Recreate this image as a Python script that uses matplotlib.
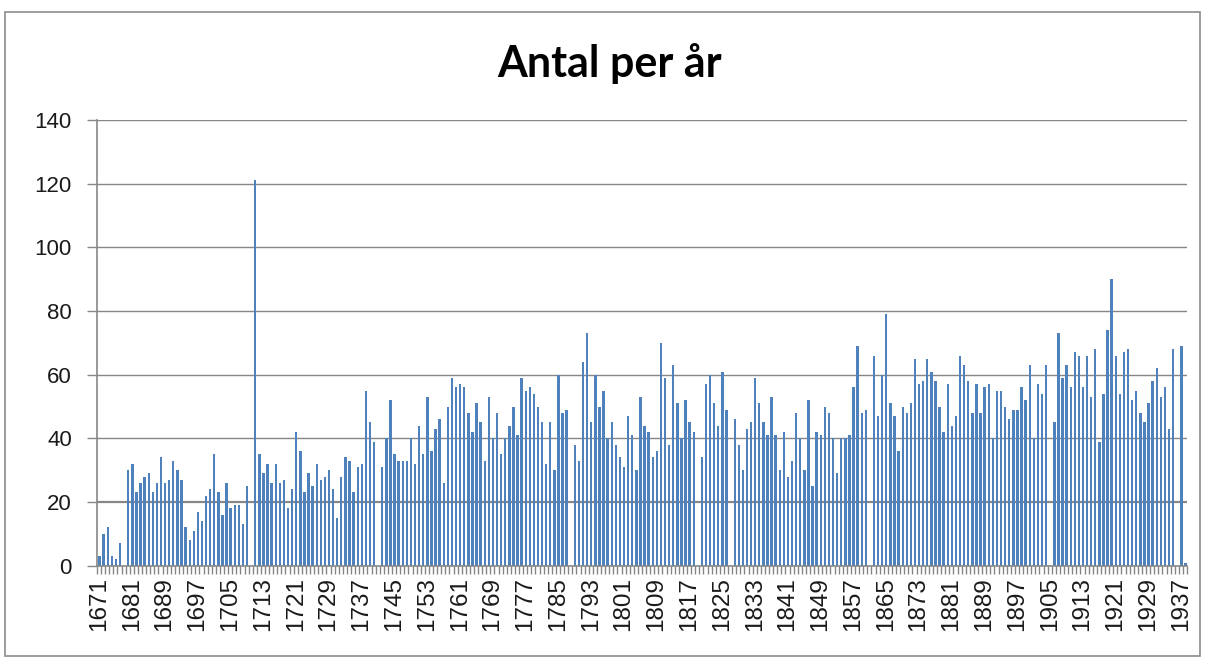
import numpy as np
import matplotlib
matplotlib.use("Agg")
import matplotlib.pyplot as plt
import matplotlib.patches as patches

# categories: years as they appear on the axis (a few early years are absent)
YEARS = [1671, 1673, 1674, 1675, 1676, 1677, 1678, 1680] + list(range(1681, 1939))

# number per year
COUNTS = [
    3, 10, 12, 3, 2, 7, 0, 30, 32, 23,
    26, 28, 29, 23, 26, 34, 26, 27, 33, 30,
    27, 12, 8, 11, 17, 14, 22, 24, 35, 23,
    16, 26, 18, 19, 19, 13, 25, 0, 121, 35,
    29, 32, 26, 32, 26, 27, 18, 24, 42, 36,
    23, 29, 25, 32, 27, 28, 30, 24, 15, 28,
    34, 33, 23, 31, 32, 55, 45, 39, 0, 31,
    40, 52, 35, 33, 33, 33, 40, 32, 44, 35,
    53, 36, 43, 46, 26, 50, 59, 56, 57, 56,
    48, 42, 51, 45, 33, 53, 40, 48, 35, 40,
    44, 50, 41, 59, 55, 56, 54, 50, 45, 32,
    45, 30, 60, 48, 49, 0, 38, 33, 64, 73,
    45, 60, 50, 55, 40, 45, 38, 34, 31, 47,
    41, 30, 53, 44, 42, 34, 36, 70, 59, 38,
    63, 51, 40, 52, 45, 42, 0, 34, 57, 60,
    51, 44, 61, 49, 0, 46, 38, 30, 43, 45,
    59, 51, 45, 41, 53, 41, 30, 42, 28, 33,
    48, 40, 30, 52, 25, 42, 41, 50, 48, 40,
    29, 40, 40, 41, 56, 69, 48, 49, 0, 66,
    47, 60, 79, 51, 47, 36, 50, 48, 51, 65,
    57, 58, 65, 61, 58, 50, 42, 57, 44, 47,
    66, 63, 58, 48, 57, 48, 56, 57, 40, 55,
    55, 50, 46, 49, 49, 56, 52, 63, 40, 57,
    54, 63, 0, 45, 73, 59, 63, 56, 67, 66,
    56, 66, 53, 68, 39, 54, 74, 90, 66, 54,
    67, 68, 52, 55, 48, 45, 51, 58, 62, 53,
    56, 43, 68, 0, 69, 1,
]

TITLE = "Antal per år"
Y_TICKS = [0, 20, 40, 60, 80, 100, 120, 140]
LABEL_STEP = 8

BAR_COLOR = "#4F81BD"
GRID_COLOR = "#868686"

W, H = 1205, 661
fig = plt.figure(figsize=(W / 100, H / 100), dpi=100)

# chart area border
fig.patches.append(patches.Rectangle((5 / W, 1 - 656 / H), 1195 / W, 644 / H,
                                     transform=fig.transFigure, fill=False,
                                     edgecolor="#8c8c8c", linewidth=1.2))

ax = fig.add_axes([97 / W, 1 - 565.7 / H, 1090 / W, 445.7 / H])

x = np.arange(len(COUNTS))
ax.bar(x + 0.12, COUNTS, width=0.58, color=BAR_COLOR, zorder=3)

ax.set_xlim(-0.5, len(COUNTS) - 0.5)
ax.set_ylim(0, 140)

for v in Y_TICKS[1:]:
    ax.axhline(v, color=GRID_COLOR, linewidth=1.6 if v == 20 else 1.0, zorder=1)

ax.set_yticks(Y_TICKS)
ax.set_yticklabels([str(v) for v in Y_TICKS], family="Liberation Sans",
                   fontsize=16, color="#1a1a1a")
ax.tick_params(axis="y", length=7, width=1, color=GRID_COLOR, pad=11)

ax.set_xticks(x[::LABEL_STEP])
ax.set_xticklabels([str(y) for y in YEARS[::LABEL_STEP]], rotation=90,
                   family="Liberation Sans", fontsize=17.5, color="#1a1a1a")
ax.tick_params(axis="x", which="major", length=0, pad=8)
ax.set_xticks(np.arange(-0.5, len(COUNTS), 1), minor=True)
ax.tick_params(axis="x", which="minor", length=6, width=1, color=GRID_COLOR)

for side in ["top", "right"]:
    ax.spines[side].set_visible(False)
for side in ["left", "bottom"]:
    ax.spines[side].set_color(GRID_COLOR)
    ax.spines[side].set_linewidth(1.2)
    ax.spines[side].set_zorder(4)

fig.text(610 / W, 1 - 77 / H, TITLE, ha="center", va="baseline",
         family="Lato", fontweight="bold", fontsize=31)

fig.savefig("out.png", dpi=100)
